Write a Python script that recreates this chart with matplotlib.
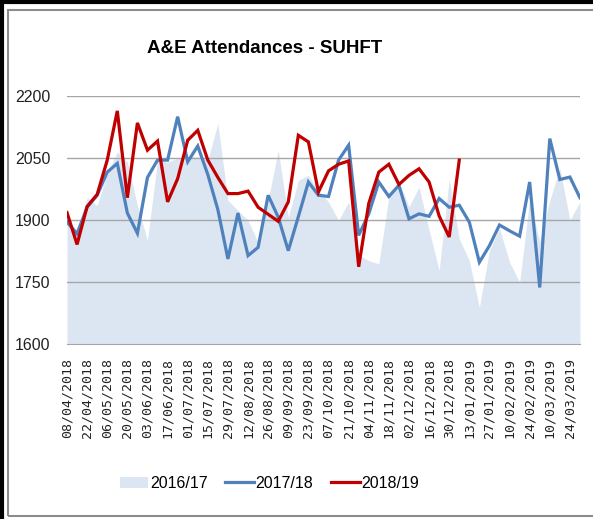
import matplotlib
matplotlib.use("Agg")
import matplotlib.pyplot as plt
from matplotlib.patches import Patch, Rectangle
from matplotlib.lines import Line2D
import pandas as pd

# weekly A&E attendances, week commencing 08/04/2018
weeks = pd.date_range("2018-04-08", periods=52, freq="7D")

att_1617 = [1890, 1870, 1954, 1935, 2012, 2065, 2041, 1935, 1851, 2045,
            2040, 2050, 2053, 2053, 2045, 2134, 1948, 1923, 1899, 1846,
            1948, 2069, 1907, 1996, 2008, 1972, 1944, 1899, 1944, 1815,
            1802, 1794, 1956, 1992, 1932, 1980, 1876, 1778, 1999, 1855,
            1802, 1689, 1827, 1880, 1798, 1750, 1948, 1848, 1948, 2025,
            1900, 1944]

att_1718 = [1895, 1867, 1931, 1960, 2016, 2037, 1917, 1868, 2003, 2045,
            2045, 2150, 2041, 2079, 2010, 1925, 1806, 1917, 1814, 1834,
            1960, 1907, 1826, 1908, 1992, 1960, 1957, 2045, 2081, 1863,
            1915, 1992, 1957, 1984, 1903, 1915, 1909, 1952, 1931, 1936,
            1895, 1798, 1838, 1888, 1874, 1861, 1992, 1737, 2097, 1998,
            2004, 1954]

att_1819 = [1918, 1841, 1933, 1962, 2045, 2164, 1954, 2135, 2069, 2091,
            1944, 2000, 2093, 2117, 2045, 2003, 1964, 1964, 1970, 1931,
            1914, 1897, 1944, 2105, 2089, 1968, 2019, 2035, 2043, 1787,
            1940, 2016, 2035, 1986, 2008, 2024, 1992, 1910, 1859, 2045]

series_names = ["2016/17", "2017/18", "2018/19"]
tick_labels = [d.strftime("%d/%m/%Y") for d in weeks[::2]]

font = "Liberation Sans"
area_col = "#DCE6F2"
blue = "#4F81BD"
red = "#C00000"

fig = plt.figure(figsize=(5.93, 5.19), dpi=100)
ax = fig.add_axes([0.113, 0.337, 0.865, 0.478])

x = list(range(len(weeks)))
ax.fill_between(x, 1600, att_1617, color=area_col, lw=0, zorder=1)
for v in [1750, 1900, 2050, 2200]:
    ax.axhline(v, color="#A6A6A6", lw=1, zorder=2)
ax.plot(x, att_1718, color=blue, lw=2.3, zorder=3, solid_joinstyle="miter")
ax.plot(x[:len(att_1819)], att_1819, color=red, lw=2.3, zorder=4,
        solid_joinstyle="miter")

ax.set_xlim(0, len(weeks) - 1)
ax.set_ylim(1600, 2200)
ax.set_yticks([1600, 1750, 1900, 2050, 2200])
ax.set_yticklabels(["1600", "1750", "1900", "2050", "2200"],
                   fontfamily=font, fontsize=11.5, color="#222222")
ax.set_xticks(x[::2])
ax.set_xticklabels(tick_labels, rotation=90, fontfamily="DejaVu Sans Mono",
                   fontsize=9.5, color="#222222")
ax.tick_params(axis="y", length=0, pad=12)
ax.tick_params(axis="x", length=0, pad=10)
for s in ["top", "right", "left"]:
    ax.spines[s].set_visible(False)
ax.spines["bottom"].set_color("#A6A6A6")
ax.spines["bottom"].set_zorder(2)

fig.text(0.447, 0.907, "A&E Attendances - SUHFT", ha="center", va="center",
         fontfamily=font, fontweight="bold", fontsize=13.5)

handles = [Patch(facecolor=area_col, edgecolor="none"),
           Line2D([], [], color=blue, lw=2.3),
           Line2D([], [], color=red, lw=2.3)]
fig.legend(handles, series_names, loc="center", bbox_to_anchor=(0.454, 0.069),
           ncol=3, frameon=False, prop={"family": font, "size": 11.5},
           handlelength=1.8, handletextpad=0.1, columnspacing=1.1)

# outer frame: black top/left, grey inner box
fig.add_artist(Rectangle((8 / 593, 1 - 516 / 519), 1.0, (516 - 10) / 519,
                         transform=fig.transFigure, fill=False,
                         edgecolor="#8C8C8C", lw=1.5))
fig.add_artist(Line2D([0, 1], [1 - 1.5 / 519] * 2, transform=fig.transFigure,
                      color="black", lw=3))
fig.add_artist(Line2D([1.5 / 593] * 2, [0, 1], transform=fig.transFigure,
                      color="black", lw=3))

fig.savefig("out.png", dpi=100)
